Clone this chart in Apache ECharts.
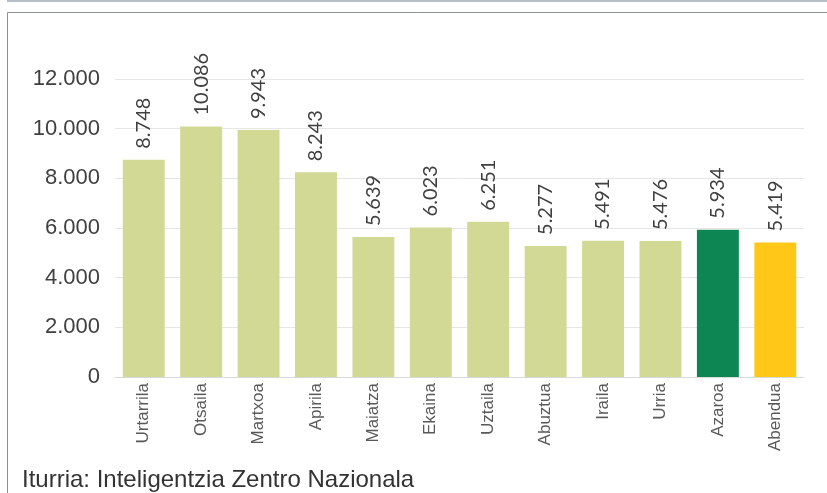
<!DOCTYPE html>
<html><head><meta charset="utf-8">
<script src="https://cdn.jsdelivr.net/npm/echarts@6/dist/echarts.min.js"></script>
<style>html,body{margin:0;padding:0;background:#fff}#c{width:827px;height:493px}</style>
</head><body><div id="c"></div>
<script>
const categories = ['Urtarrila','Otsaila','Martxoa','Apirila','Maiatza','Ekaina','Uztaila','Abuztua','Iraila','Urria','Azaroa','Abendua'];
const values = [8748,10086,9943,8243,5639,6023,6251,5277,5491,5476,5934,5419];
const barColors = ['#D1D994','#D1D994','#D1D994','#D1D994','#D1D994','#D1D994','#D1D994','#D1D994','#D1D994','#D1D994','#0E8654','#FFC818'];
const sourceText = 'Iturria: Inteligentzia Zentro Nazionala';

function fmt(v){ return String(v).replace(/\B(?=(\d{3})+(?!\d))/g,'.'); }

const chart = echarts.init(document.getElementById('c'), null, {renderer:'canvas'});
chart.setOption({
  animation:false,
  backgroundColor:'#fff',
  grid:{left:115,right:23,top:79,bottom:116,containLabel:false},
  xAxis:{type:'category',data:categories,
    axisLine:{show:true,lineStyle:{color:'#d9d9d9',width:1}},
    axisTick:{show:false},
    axisLabel:{rotate:90,margin:6,fontSize:17,color:'#595959',fontFamily:'Liberation Sans, Arial'}},
  yAxis:{type:'value',min:0,max:12000,interval:2000,
    axisLine:{show:false},axisTick:{show:false},
    splitLine:{lineStyle:{color:'#e6e6e6',width:1}},
    axisLabel:{fontSize:22,color:'#404040',margin:15,fontFamily:'Liberation Sans, Arial',formatter:fmt}},
  series:[{type:'bar',barCategoryGap:'27%',
    data:values.map((v,i)=>({value:v,itemStyle:{color:barColors[i]}})),
    label:{show:true,position:'top',rotate:90,align:'left',verticalAlign:'middle',distance:11,
      fontSize:20,color:'#404040',fontFamily:'Lato, Liberation Sans',formatter:p=>fmt(p.value)}}],
  graphic:[
    {type:'rect',shape:{x:7,y:0,width:820,height:2},style:{fill:'#b8bdc8'},silent:true},
    {type:'polyline',shape:{points:[[7.5,493],[7.5,12.5],[827,12.5]]},style:{stroke:'#8c9196',lineWidth:1,fill:null},silent:true},
    {type:'text',left:22,top:468,style:{text:sourceText,fontSize:24,fill:'#333',fontFamily:'Liberation Sans, Arial'}}
  ]
});
</script></body></html>
